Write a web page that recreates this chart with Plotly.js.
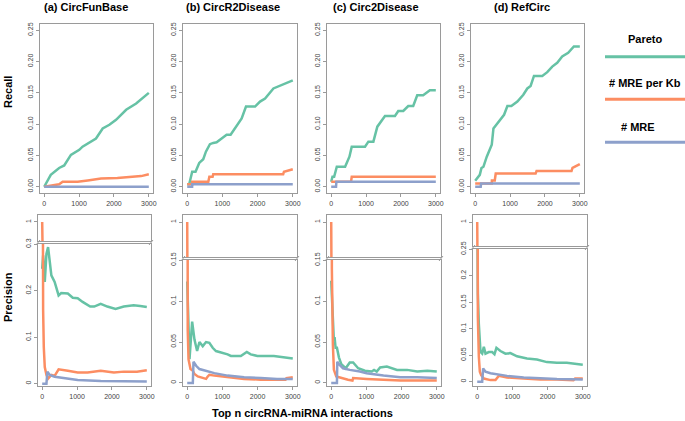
<!DOCTYPE html>
<html>
<head>
<meta charset="utf-8">
<script src="https://cdn.plot.ly/plotly-3.0.1.min.js"></script>
<style>html,body{margin:0;padding:0;background:#fff;}#chart{width:685px;height:421px;}</style>
</head>
<body>
<div id="chart"></div>
<script>
// ---------- DATA ----------
const panelTitles = ['(a) CircFunBase', '(b) CircR2Disease', '(c) Circ2Disease', '(d) RefCirc'];
const seriesNames = ['Pareto', '# MRE per Kb', '# MRE'];
const xTickVals = [0, 1000, 2000, 3000];
const recallTickVals = [0, 0.05, 0.10, 0.15, 0.20, 0.25];
const precTickVals = [[0, 0.1, 0.2, 0.3], [0, 0.05, 0.1, 0.15], [0, 0.05, 0.1, 0.15], [0, 0.05, 0.1, 0.15, 0.2, 0.25]];
const precTickText = [['0', '0.1', '0.2', '0.3'], ['0', '0.05', '0.1', '0.15'], ['0', '0.05', '0.1', '0.15'], ['0', '0.05', '0.1', '0.15', '0.2', '0.25']];

// Recall (a) CircFunBase
const recA_par_x = [1, 190, 430, 575, 767, 1007, 1100, 1342, 1486, 1678, 1870, 2061, 2350, 2637, 3000];
const recA_par_y = [0, 0.019, 0.030, 0.034, 0.051, 0.059, 0.064, 0.072, 0.077, 0.093, 0.099, 0.107, 0.123, 0.133, 0.150];
const recA_kb_x = [1, 190, 430, 530, 960, 1250, 1630, 2100, 2300, 2780, 3000];
const recA_kb_y = [0, 0.002, 0.004, 0.008, 0.008, 0.010, 0.013, 0.014, 0.015, 0.017, 0.020];
const recA_mre_x = [1, 3000];
const recA_mre_y = [0, 0];
// Recall (b) CircR2Disease
const recB_par_x = [1, 57, 142, 237, 342, 456, 532, 646, 741, 836, 1026, 1120, 1234, 1358, 1548, 1671, 1928, 2070, 2213, 2450, 3000];
const recB_par_y = [0.004, 0.004, 0.024, 0.024, 0.038, 0.044, 0.056, 0.068, 0.070, 0.071, 0.079, 0.083, 0.083, 0.093, 0.109, 0.128, 0.128, 0.136, 0.141, 0.157, 0.170];
const recB_kb_x = [1, 140, 142, 600, 630, 722, 740, 2727, 2750, 3000];
const recB_kb_y = [0.004, 0.004, 0.008, 0.008, 0.016, 0.016, 0.020, 0.020, 0.024, 0.028];
const recB_mre_x = [1, 140, 142, 3000];
const recB_mre_y = [0, 0, 0.004, 0.004];
// Recall (c) Circ2Disease
const recC_par_x = [1, 38, 86, 162, 400, 524, 590, 971, 1067, 1210, 1324, 1543, 1829, 1924, 2067, 2210, 2352, 2467, 2638, 2829, 3000];
const recC_par_y = [0.008, 0.016, 0.016, 0.032, 0.032, 0.048, 0.064, 0.064, 0.072, 0.072, 0.096, 0.113, 0.113, 0.121, 0.121, 0.129, 0.129, 0.146, 0.146, 0.154, 0.154];
const recC_kb_x = [1, 570, 590, 3000];
const recC_kb_y = [0.008, 0.008, 0.016, 0.016];
const recC_mre_x = [1, 140, 150, 3000];
const recC_mre_y = [0, 0, 0.008, 0.008];
// Recall (d) RefCirc
const recD_par_x = [1, 67, 133, 181, 238, 333, 429, 476, 524, 619, 714, 829, 924, 1038, 1210, 1381, 1495, 1590, 1686, 1924, 2067, 2210, 2352, 2495, 2667, 2829, 3000];
const recD_par_y = [0.0095, 0.014, 0.019, 0.030, 0.032, 0.048, 0.062, 0.067, 0.093, 0.100, 0.108, 0.115, 0.129, 0.129, 0.136, 0.147, 0.157, 0.161, 0.177, 0.177, 0.183, 0.192, 0.198, 0.208, 0.214, 0.224, 0.224];
const recD_kb_x = [1, 476, 480, 562, 590, 1733, 1760, 2762, 2790, 3000];
const recD_kb_y = [0.005, 0.005, 0.010, 0.010, 0.021, 0.021, 0.025, 0.025, 0.030, 0.036];
const recD_mre_x = [1, 160, 170, 3000];
const recD_mre_y = [0, 0, 0.005, 0.005];

// Precision (a) CircFunBase
const preA_par_x = [1, 28, 75, 123, 170, 264, 358, 472, 547, 736, 877, 1019, 1160, 1377, 1491, 1679, 1868, 2104, 2340, 2623, 2811, 3000];
const preA_par_y = [0.247, 0.276, 0.219, 0.279, 0.294, 0.233, 0.219, 0.190, 0.195, 0.194, 0.185, 0.184, 0.176, 0.166, 0.166, 0.172, 0.166, 0.161, 0.166, 0.169, 0.167, 0.165];
const preA_kb_x = [1, 10, 28, 47, 75, 123, 170, 264, 358, 472, 595, 736, 1019, 1302, 1679, 2057, 2340, 2717, 3000];
const preA_kb_y = [1, 0.22, 0.158, 0.079, 0.036, 0.019, 0.011, 0.019, 0.017, 0.031, 0.029, 0.028, 0.024, 0.024, 0.028, 0.024, 0.026, 0.026, 0.029];
const preA_mre_x = [1, 123, 151, 217, 358, 736, 1019, 1679, 2340, 3000];
const preA_mre_y = [0, 0, 0.026, 0.019, 0.015, 0.011, 0.008, 0.006, 0.006, 0.005];
// Precision (b) CircR2Disease
const preB_par_x = [1, 47, 66, 141, 207, 282, 348, 442, 536, 630, 724, 818, 1007, 1148, 1242, 1524, 1693, 1806, 1994, 2464, 3000];
const preB_par_y = [0.124, 0.053, 0.029, 0.075, 0.053, 0.039, 0.050, 0.045, 0.050, 0.049, 0.043, 0.039, 0.037, 0.035, 0.033, 0.033, 0.038, 0.035, 0.033, 0.033, 0.030];
const preB_kb_x = [1, 4, 8, 15, 38, 94, 160, 207, 301, 442, 536, 583, 630, 771, 1148, 1618, 2088, 2558, 2793, 2822, 3000];
const preB_kb_y = [1, 0.25, 0.12, 0.065, 0.029, 0.017, 0.015, 0.011, 0.008, 0.006, 0.005, 0.008, 0.010, 0.009, 0.007, 0.005, 0.004, 0.004, 0.004, 0.006, 0.007];
const preB_mre_x = [1, 160, 179, 254, 348, 583, 771, 1148, 1618, 2088, 2558, 3000];
const preB_mre_y = [0, 0, 0.026, 0.021, 0.017, 0.014, 0.012, 0.009, 0.007, 0.006, 0.005, 0.005];
// Precision (c) Circ2Disease
const preC_par_x = [1, 19, 48, 77, 96, 125, 163, 221, 288, 412, 527, 623, 767, 959, 1151, 1218, 1294, 1390, 1582, 1870, 2157, 2445, 2732, 3000];
const preC_par_y = [0.125, 0.105, 0.076, 0.051, 0.056, 0.043, 0.043, 0.031, 0.023, 0.018, 0.025, 0.025, 0.018, 0.015, 0.014, 0.016, 0.014, 0.019, 0.020, 0.016, 0.016, 0.014, 0.015, 0.014];
const preC_kb_x = [1, 5, 19, 48, 77, 144, 288, 479, 604, 623, 1007, 1486, 1966, 2445, 3000];
const preC_kb_y = [1, 0.3, 0.14, 0.047, 0.016, 0.008, 0.006, 0.004, 0.003, 0.006, 0.005, 0.004, 0.003, 0.003, 0.003];
const preC_mre_x = [1, 163, 173, 240, 336, 527, 815, 1007, 1486, 1966, 2445, 3000];
const preC_mre_y = [0, 0, 0.026, 0.022, 0.018, 0.016, 0.014, 0.012, 0.009, 0.007, 0.007, 0.006];
// Precision (d) RefCirc
const preD_par_x = [1, 19, 47, 75, 94, 142, 189, 236, 330, 425, 491, 547, 660, 802, 943, 1132, 1415, 1698, 1981, 2264, 2547, 3000];
const preD_par_y = [0.33, 0.166, 0.109, 0.078, 0.056, 0.053, 0.066, 0.053, 0.056, 0.056, 0.052, 0.064, 0.058, 0.053, 0.054, 0.048, 0.044, 0.042, 0.037, 0.036, 0.036, 0.032];
const preD_kb_x = [1, 4, 19, 47, 75, 113, 189, 377, 519, 613, 849, 1321, 1792, 2264, 2736, 2783, 3000];
const preD_kb_y = [1, 0.3, 0.122, 0.047, 0.019, 0.0125, 0.006, 0.003, 0.003, 0.011, 0.008, 0.006, 0.004, 0.004, 0.003, 0.006, 0.006];
const preD_mre_x = [1, 142, 170, 236, 377, 566, 849, 1321, 1792, 2264, 3000];
const preD_mre_y = [0, 0, 0.025, 0.019, 0.016, 0.014, 0.011, 0.008, 0.006, 0.005, 0.004];

const seriesColors = ['#66C2A5', '#FC8D62', '#8DA0CB'];

const recallData = [
  [[recA_par_x, recA_par_y], [recA_kb_x, recA_kb_y], [recA_mre_x, recA_mre_y]],
  [[recB_par_x, recB_par_y], [recB_kb_x, recB_kb_y], [recB_mre_x, recB_mre_y]],
  [[recC_par_x, recC_par_y], [recC_kb_x, recC_kb_y], [recC_mre_x, recC_mre_y]],
  [[recD_par_x, recD_par_y], [recD_kb_x, recD_kb_y], [recD_mre_x, recD_mre_y]]
];
const precData = [
  [[preA_par_x, preA_par_y], [preA_kb_x, preA_kb_y], [preA_mre_x, preA_mre_y]],
  [[preB_par_x, preB_par_y], [preB_kb_x, preB_kb_y], [preB_mre_x, preB_mre_y]],
  [[preC_par_x, preC_par_y], [preC_kb_x, preC_kb_y], [preC_mre_x, preC_mre_y]],
  [[preD_par_x, preD_par_y], [preD_kb_x, preD_kb_y], [preD_mre_x, preD_mre_y]]
];

// ---------- LAYOUT (pixel geometry) ----------
const W = 685, H = 421;
const fx = p => p / W;
const fy = p => 1 - p / H;
const topX = [[40, 153], [183, 297], [327, 440], [471, 584]];
const botX = [[38, 151], [183, 297], [327, 441], [473, 587]];
const topY = [24, 193];
const botTop = 215, botBottom = 386;
const lowerTop = [244, 260, 260, 249];
const upperBottom = [241, 257, 257, 246];
const lowerRange = [[-0.0049, 0.3005], [-0.0037, 0.1503], [-0.0037, 0.1503], [-0.0081, 0.2505]];
const upperRange = [[0.75, 1.092], [0.75, 1.05], [0.75, 1.05], [0.75, 1.073]];
const xRange = [-119, 3120];

const FONT = 'Liberation Sans, Arial, sans-serif';
const lineCol = '#9a9a9a';
const base = {
  showgrid: false, zeroline: false, showline: true, mirror: true,
  linecolor: lineCol, linewidth: 1.2, ticks: 'outside', ticklen: 3,
  tickcolor: lineCol, tickwidth: 1,
  tickfont: {family: FONT, size: 7, color: '#444'}, fixedrange: true
};

const layout = {
  width: W, height: H, margin: {l: 0, r: 0, t: 0, b: 0},
  paper_bgcolor: '#fff', plot_bgcolor: '#fff', showlegend: false,
  shapes: [], annotations: []
};
const traces = [];

function ax(k) { return k === 1 ? '' : String(k); }

function addTraces(k, data) {
  data.forEach((s, i) => {
    traces.push({
      x: s[0], y: s[1], type: 'scatter', mode: 'lines',
      xaxis: 'x' + ax(k), yaxis: 'y' + ax(k),
      line: {color: seriesColors[i], width: 2.5}, hoverinfo: 'skip'
    });
  });
}

for (let p = 0; p < 4; p++) {
  // top row recall
  let k = p + 1;
  layout['xaxis' + ax(k)] = Object.assign({}, base, {
    domain: [fx(topX[p][0]), fx(topX[p][1])], range: xRange,
    tickvals: xTickVals, anchor: 'y' + ax(k)
  });
  layout['yaxis' + ax(k)] = Object.assign({}, base, {
    domain: [fy(topY[1]), fy(topY[0])], range: [-0.01, 0.26],
    tickvals: recallTickVals, tickformat: '.2f', tickangle: -90, anchor: 'x' + ax(k)
  });
  addTraces(k, recallData[p]);

  // bottom row lower section
  k = p + 5;
  layout['xaxis' + ax(k)] = Object.assign({}, base, {
    domain: [fx(botX[p][0]), fx(botX[p][1])], range: xRange,
    tickvals: xTickVals, anchor: 'y' + ax(k)
  });
  layout['yaxis' + ax(k)] = Object.assign({}, base, {
    domain: [fy(botBottom), fy(lowerTop[p])], range: lowerRange[p],
    tickvals: precTickVals[p], ticktext: precTickText[p], tickangle: -90, anchor: 'x' + ax(k)
  });
  addTraces(k, precData[p]);

  // bottom row upper section (broken axis)
  k = p + 9;
  layout['xaxis' + ax(k)] = Object.assign({}, base, {
    domain: [fx(botX[p][0]), fx(botX[p][1])], range: xRange,
    ticks: '', showticklabels: false, anchor: 'y' + ax(k)
  });
  layout['yaxis' + ax(k)] = Object.assign({}, base, {
    domain: [fy(upperBottom[p]), fy(botTop)], range: upperRange[p],
    tickvals: [1], ticktext: ['1'], tickangle: -90, anchor: 'x' + ax(k)
  });
  addTraces(k, precData[p]);

  // break marks
  [botX[p][0], botX[p][1]].forEach(xe => {
    layout.shapes.push({
      type: 'line', xref: 'paper', yref: 'paper',
      x0: fx(xe - 2), y0: fy(lowerTop[p] + 1), x1: fx(xe + 2), y1: fy(upperBottom[p] - 1),
      line: {color: lineCol, width: 1}
    });
  });
}

// panel titles
const titleX = [86, 233, 375.5, 522];
panelTitles.forEach((t, i) => {
  layout.annotations.push({
    text: '<b>' + t + '</b>', xref: 'paper', yref: 'paper',
    x: fx(titleX[i]), y: fy(7), xanchor: 'center', yanchor: 'middle', showarrow: false,
    font: {family: FONT, size: 11, color: '#000'}
  });
});
// row labels
layout.annotations.push({
  text: '<b>Recall</b>', xref: 'paper', yref: 'paper', x: fx(8), y: fy(92),
  xanchor: 'center', yanchor: 'middle', textangle: -90, showarrow: false,
  font: {family: FONT, size: 11, color: '#000'}
});
layout.annotations.push({
  text: '<b>Precision</b>', xref: 'paper', yref: 'paper', x: fx(8), y: fy(297),
  xanchor: 'center', yanchor: 'middle', textangle: -90, showarrow: false,
  font: {family: FONT, size: 11, color: '#000'}
});
layout.annotations.push({
  text: '<b>Top n circRNA-miRNA interactions</b>', xref: 'paper', yref: 'paper',
  x: fx(302.5), y: fy(413), xanchor: 'center', yanchor: 'middle', showarrow: false,
  font: {family: FONT, size: 11, color: '#000'}
});

// legend (manual)
const legTextPos = [[645, 39], [645, 83], [637.5, 127]];
const legLineY = [56.7, 99.3, 142.3];
seriesNames.forEach((n, i) => {
  layout.annotations.push({
    text: '<b>' + n + '</b>', xref: 'paper', yref: 'paper',
    x: fx(legTextPos[i][0]), y: fy(legTextPos[i][1]), xanchor: 'center', yanchor: 'middle',
    showarrow: false, font: {family: FONT, size: 11, color: '#000'}
  });
  layout.shapes.push({
    type: 'line', xref: 'paper', yref: 'paper',
    x0: fx(605), x1: fx(685), y0: fy(legLineY[i]), y1: fy(legLineY[i]),
    line: {color: seriesColors[i], width: 3}
  });
});

Plotly.newPlot('chart', traces, layout, {staticPlot: true, displayModeBar: false});
</script>
</body>
</html>
